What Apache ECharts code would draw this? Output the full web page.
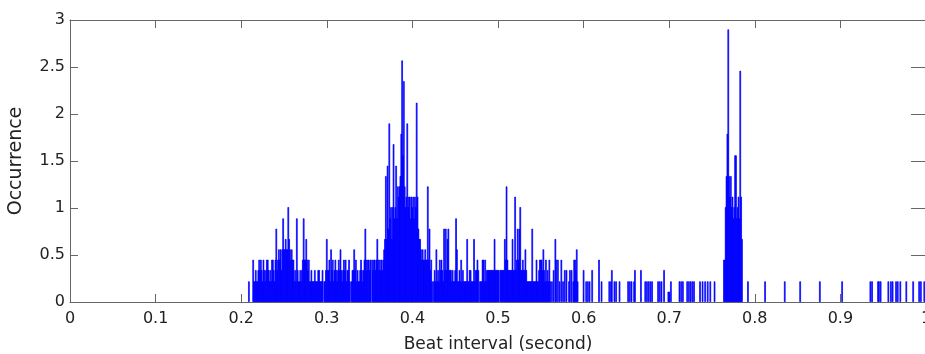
<!DOCTYPE html>
<html>
<head>
<meta charset="utf-8">
<script src="https://cdn.jsdelivr.net/npm/echarts@6/dist/echarts.min.js"></script>
<style>
html,body{margin:0;padding:0;background:#fff;}
#chart{width:925px;height:354px;}
</style>
</head>
<body>
<div id="chart"></div>
<script>
// Tick labels
const xTickLabels = ['0','0.1','0.2','0.3','0.4','0.5','0.6','0.7','0.8','0.9','1'];
const yTickLabels = ['0','0.5','1','1.5','2','2.5','3'];

// Dense part of the histogram: consecutive 1 ms bins starting at 0.214 s
const denseStart = 0.214;
const binWidth = 0.001;
const denseValues = [
  .45,.22,.22,.34,.22,.22,.34,.45,.34,.45,
  .34,.22,.45,.34,.22,.34,.45,.45,.34,.22,
  .34,.22,.45,.45,.34,.22,.45,.78,.34,.45,
  .56,.45,.56,.34,.56,.89,.56,.56,.67,.56,
  .56,1.01,.67,.56,.45,.56,.45,.45,.22,.34,
  .22,.89,.34,.22,.22,.34,.22,.34,.45,.89,
  .45,.45,.67,.45,.34,.45,.22,.22,.34,.22,
  .22,.22,.34,.22,.22,.22,.34,.34,.22,.22,
  .22,.34,0,.22,.22,.34,.67,.34,.34,.45,
  .22,.56,.34,.45,.22,.34,.45,.34,.22,.34,
  .45,.34,.56,.34,.22,.34,.45,.34,.45,.22,
  .34,.34,.45,.22,0,.22,.34,.34,.56,.34,
  .45,.22,.34,.22,.22,.34,.45,.34,.22,.34,
  .45,.78,.45,.34,.45,.45,.34,.45,0,.45,
  .34,.45,.45,.34,.45,.67,.45,.34,.45,.34,
  .45,.34,.45,.56,.67,1.34,.67,1.45,.78,1.9,
  .89,1.01,.67,1.01,1.68,.89,1.01,1.45,.89,1.23,
  1.12,1.23,1.34,1.79,2.57,1.56,2.35,1.23,1.01,1.12,
  1.9,1.01,1.12,1.12,.89,1.12,1.01,1.12,.89,1.12,
  1.01,2.12,1.12,.78,.67,.67,.56,.45,.56,.45,
  .45,.56,.45,.45,1.23,.45,.78,.34,.45,.22,
  0,.22,.34,.22,.56,.22,.34,.22,.45,.34,
  .45,.34,.22,.78,.34,.78,.34,.67,.78,.34,
  .34,.34,.22,.34,.22,.22,.34,.89,.56,.22,
  .22,.34,.22,.45,.22,.34,.22,.22,.22,.22,
  .67,.22,.22,.34,.34,.22,.22,.22,.67,.22,
  .34,.34,.45,.34,0,.22,.22,.22,.45,.45,
  .22,.45,.22,.34,.34,.34,.34,.34,.34,.34,
  .34,.34,.67,.34,.34,.34,.34,.34,0,.34,
  .34,.34,.34,.34,.67,.45,1.23,.45,.34,.34,
  .34,.34,.34,.67,.34,.34,1.12,.34,.45,.78,
  .45,.78,1.01,.34,.34,.45,.34,.34,.56,.34,
  .22,.22,.22,.22,.22,.22,.78,.22,.22,.22,
  .22,.45,.22,.22,.34,.45,.45,.45,.34,.56,
  .34,.22,.45,.22,.34,.22,.45,.22
];

// Isolated bins (bin centre in seconds, occurrence)
const sparseX = [
  0.209,
  0.563,0.565,0.567,0.568,0.570,0.572,0.574,0.576,0.578,0.580,0.583,0.584,0.586,0.588,0.589,0.590,0.591,0.592,0.593,
  0.600,0.603,0.605,0.607,0.610,0.618,0.621,0.630,0.632,0.633,0.636,0.638,0.642,0.652,0.654,0.656,0.659,0.660,0.667,
  0.672,0.674,0.676,0.678,0.680,0.687,0.689,0.691,0.694,0.699,0.700,0.702,0.712,0.714,0.716,0.721,0.723,0.725,0.727,0.729,
  0.736,0.739,0.742,0.745,0.748,0.753,
  0.764,0.765,0.766,0.767,0.768,0.769,0.770,0.771,0.772,0.773,0.774,0.775,0.776,0.777,0.778,0.779,0.780,0.781,0.782,0.783,0.784,0.785,
  0.792,0.812,0.835,0.853,0.876,0.902,0.935,0.937,0.944,0.945,0.947,0.956,0.959,0.961,0.965,0.967,0.970,0.977,0.985,0.992,0.994,0.998
];
const sparseY = [
  .22,
  .22,.34,.67,.45,.45,.22,.45,.22,.34,.34,.22,.34,.34,.22,.45,.45,.34,.56,.22,
  .34,.22,.22,.22,.34,.45,.22,.22,.22,.34,.22,.22,.22,.22,.22,.22,.22,.34,.34,
  .22,.22,.22,.22,.22,.22,.22,.22,.34,.11,.11,.22,.22,.22,.22,.22,.22,.22,.22,.22,
  .22,.22,.22,.22,.22,.22,
  .45,.45,1.01,1.34,1.79,2.9,1.34,1.12,1.34,1.01,1.12,.89,1.01,1.56,1.56,.89,1.01,1.12,.89,2.46,1.12,.67,
  .22,.22,.22,.22,.22,.22,.22,.22,.22,.22,.22,.22,.22,.22,.22,.22,.22,.22,.22,.22,.22,.22
];

const data = [];
denseValues.forEach((v, i) => {
  if (v > 0) data.push([Math.round((denseStart + i * binWidth) * 1000) / 1000, v]);
});
sparseX.forEach((x, i) => data.push([x, sparseY[i]]));

const axisColor = '#666';
const textColor = '#222';
const font = 'DejaVu Sans';

const chart = echarts.init(document.getElementById('chart'), null, {renderer: 'canvas'});
chart.setOption({
  animation: false,
  backgroundColor: '#fff',
  grid: {left: 70, right: -1, top: 20, bottom: 52, outerBoundsMode: 'none', containLabel: false},
  xAxis: [{
    type: 'value', min: 0, max: 1, interval: 0.1, position: 'bottom',
    axisLine: {show: true, onZero: false, lineStyle: {color: axisColor, width: 1}},
    axisTick: {show: true, inside: true, length: 8, lineStyle: {color: axisColor}},
    axisLabel: {color: textColor, fontSize: 16, fontFamily: font, margin: 9,
      formatter: (v) => xTickLabels[Math.round(v * 10)]},
    splitLine: {show: false},
    name: 'Beat interval (second)', nameLocation: 'middle', nameGap: 34,
    nameTextStyle: {color: textColor, fontSize: 17, fontFamily: font}
  }, {
    type: 'value', min: 0, max: 1, interval: 0.1, position: 'top',
    axisLine: {show: true, onZero: false, lineStyle: {color: axisColor, width: 1}},
    axisTick: {show: true, inside: true, length: 8, lineStyle: {color: axisColor}},
    axisLabel: {show: false}, splitLine: {show: false}
  }],
  yAxis: [{
    type: 'value', min: 0, max: 3, interval: 0.5, position: 'left',
    axisLine: {show: true, onZero: false, lineStyle: {color: axisColor, width: 1}},
    axisTick: {show: true, inside: true, length: 8, lineStyle: {color: axisColor}},
    axisLabel: {color: textColor, fontSize: 16, fontFamily: font, margin: 5,
      formatter: (v) => yTickLabels[Math.round(v * 2)]},
    splitLine: {show: false},
    name: 'Occurrence', nameLocation: 'middle', nameGap: 44, nameRotate: 90,
    nameTextStyle: {color: textColor, fontSize: 19, fontFamily: font}
  }, {
    type: 'value', min: 0, max: 3, interval: 0.5, position: 'right',
    axisLine: {show: true, onZero: false, lineStyle: {color: axisColor, width: 1}},
    axisTick: {show: true, inside: true, length: 15, lineStyle: {color: axisColor}},
    axisLabel: {show: false}, splitLine: {show: false}
  }],
  series: [{
    type: 'bar',
    xAxisIndex: 0, yAxisIndex: 0,
    data: data,
    barWidth: 1.6,
    itemStyle: {color: '#0000ff', borderColor: '#0000ff', borderWidth: 0.7},
    large: false
  }]
});
</script>
</body>
</html>
